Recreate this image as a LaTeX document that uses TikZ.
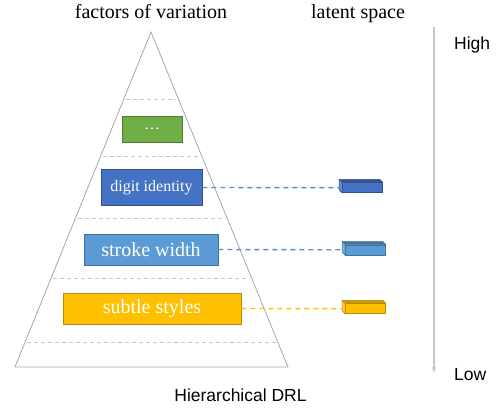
\documentclass[tikz,border=0pt]{standalone}
\usepackage{fontspec}
\setmainfont{Liberation Serif}
\setsansfont{Liberation Sans}
\usetikzlibrary{arrows.meta,calc}
\definecolor{cgreen}{HTML}{70AD47}
\definecolor{cgreenb}{HTML}{507E32}
\definecolor{cblue}{HTML}{4472C4}
\definecolor{cblueb}{HTML}{2F528F}
\definecolor{clblue}{HTML}{5B9BD5}
\definecolor{clblueb}{HTML}{41719C}
\definecolor{corange}{HTML}{FFC000}
\definecolor{corangeb}{HTML}{BC8C00}
\definecolor{linkblue}{HTML}{5A8AD6}
\definecolor{tri}{HTML}{A6A6A6}
\definecolor{sep}{HTML}{C8C8C8}
\tikzset{
  factor/.style={draw=#1, line width=0.8pt, inner sep=0pt, text=white},
  sepline/.style={draw=sep, dashed, dash pattern=on 4pt off 3pt, line width=0.7pt},
  link/.style={dashed, dash pattern=on 5pt off 4pt, line width=1.4pt},
  bar/.style={draw=#1, line width=0.6pt, minimum width=40pt, minimum height=10pt, inner sep=0pt},
  seriflabel/.style={font=\fontsize{20}{24}\selectfont, inner sep=0pt},
  sanslabel/.style={font=\sffamily\fontsize{17.5}{21}\selectfont, inner sep=0pt},
}
\newcommand{\threedbar}[4]{% name, front, top, side
  \fill[#3, draw=#2!70!black, line width=0.5pt] (#1.north west) -- ++(-3pt,3pt) -- ($(#1.north east)+(-3pt,3pt)$) -- (#1.north east) -- cycle;
  \fill[#4, draw=#2!70!black, line width=0.5pt] (#1.north west) -- ++(-3pt,3pt) -- ($(#1.south west)+(-3pt,3pt)$) -- (#1.south west) -- cycle;
}
\begin{document}
\begin{tikzpicture}[x=1pt,y=-1pt]
\useasboundingbox (0,0) rectangle (500,412);
% triangle
\coordinate (apex) at (151,32);
\coordinate (bl) at (15,367);
\coordinate (br) at (288,367);
\draw[tri, line width=0.8pt] (apex) -- (bl) -- (br) -- cycle;
\foreach \t in {0.2,0.37,0.555,0.734,0.925}{
  \draw[sepline] ($(apex)!\t!(bl)+(2,0)$) -- ($(apex)!\t!(br)+(-2,0)$);
}
% factor boxes
\node[factor=cgreenb, fill=cgreen, minimum width=60pt, minimum height=26pt, font=\fontsize{16}{18}\selectfont] (dots) at (152,129) {…};
\node[factor=cblueb, fill=cblue, minimum width=101pt, minimum height=36pt, font=\fontsize{16}{19}\selectfont] (digit) at (151.5,187.5) {digit identity};
\node[factor=clblueb, fill=clblue, minimum width=134pt, minimum height=31pt, font=\fontsize{20}{24}\selectfont] (stroke) at (151,249.5) {stroke width};
\node[factor=corangeb, fill=corange, minimum width=178pt, minimum height=31pt, font=\fontsize{20}{24}\selectfont] (subtle) at (152,308.5) {subtle styles};
% latent bars
\node[bar=cblueb, fill=cblue] (b1) at (362.5,187.7) {};
\node[bar=clblueb, fill=clblue] (b2) at (365.5,249.8) {};
\node[bar=corangeb, fill=corange] (b3) at (365.5,308.7) {};
\threedbar{b1}{cblue}{cblue!75!black}{cblue!80!white}
\threedbar{b2}{clblue}{clblue!75!black}{clblue!80!white}
\threedbar{b3}{corange}{corange!80!black}{corange!80!white}
% links
\draw[link, draw=linkblue] (digit.east) -- ([xshift=-3pt]b1.west);
\draw[link, draw=linkblue] (stroke.east) -- ([xshift=-3pt]b2.west);
\draw[link, draw=corange] (subtle.east) -- ([xshift=-3pt]b3.west);
% arrow
\coordinate (atop) at (434,27);
\coordinate (abot) at (434,373);
\draw[draw=sep, line width=1.3pt, -{Stealth[length=6pt,width=4pt]}] (atop) -- (abot);
% labels
\node[seriflabel, anchor=base] (fov) at (151,18.5) {factors of variation};
\node[seriflabel, anchor=base] (ls) at (358,18.5) {latent space};
\node[sanslabel, anchor=base west] (high) at (454,49.3) {High};
\node[sanslabel, anchor=base west] (low) at (454,380.7) {Low};
\node[sanslabel, anchor=base] (hdrl) at (240.5,401.7) {Hierarchical DRL};
\end{tikzpicture}
\end{document}
